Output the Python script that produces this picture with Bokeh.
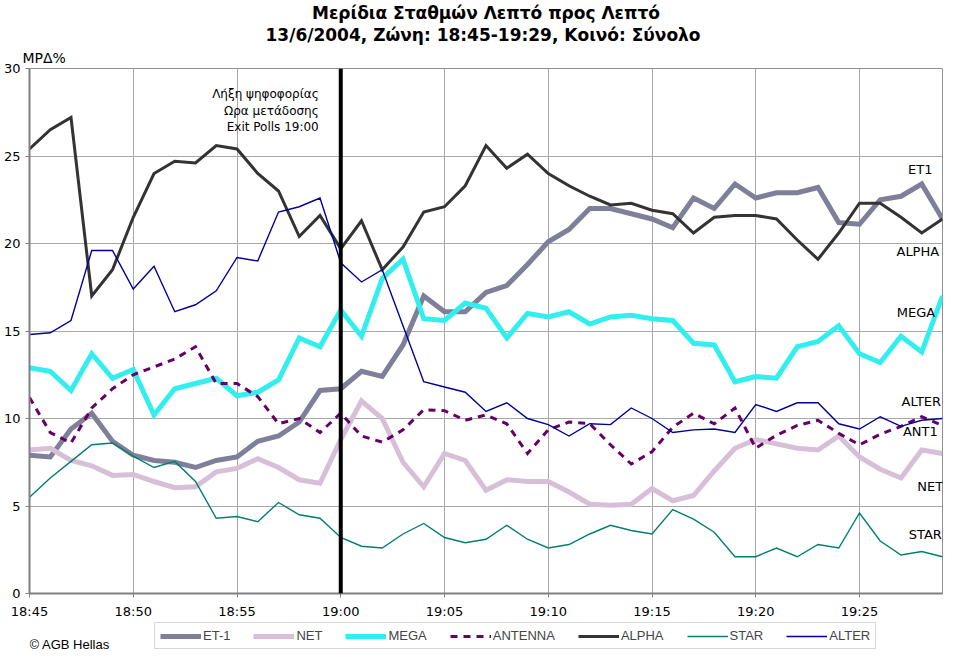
from bokeh.plotting import figure
from bokeh.models import Legend, LegendItem, Label, Span, FixedTicker, Title
from bokeh.layouts import column
from bokeh.embed import file_html
from bokeh.resources import INLINE

# ---------------- data ----------------
minutes = list(range(45))  # 18:45 .. 19:29
tick_minutes = [0, 5, 10, 15, 20, 25, 30, 35, 40]
tick_labels = ["18:45", "18:50", "18:55", "19:00", "19:05", "19:10", "19:15", "19:20", "19:25"]
y_ticks = [0, 5, 10, 15, 20, 25, 30]

et1 = [7.9, 7.8, 9.4, 10.3, 8.7, 7.9, 7.6, 7.5, 7.2, 7.6,
       7.8, 8.7, 9.0, 9.8, 11.6, 11.7, 12.7, 12.4, 14.2, 17.0,
       16.1, 16.1, 17.2, 17.6, 18.8, 20.1, 20.8, 22.0, 22.0, 21.7,
       21.4, 20.9, 22.6, 22.0, 23.4, 22.6, 22.9, 22.9, 23.2, 21.2,
       21.1, 22.5, 22.7, 23.4, 21.4]
net = [8.2, 8.3, 7.6, 7.3, 6.75, 6.8, 6.4, 6.05, 6.1, 6.95,
       7.15, 7.7, 7.2, 6.5, 6.3, 8.8, 11.0, 10.0, 7.5, 6.1,
       8.0, 7.6, 5.9, 6.5, 6.4, 6.4, 5.8, 5.1, 5.05, 5.1,
       6.0, 5.3, 5.6, 7.0, 8.3, 8.8, 8.55, 8.3, 8.2, 9.0,
       7.8, 7.1, 6.6, 8.2, 8.0]
mega = [12.9, 12.7, 11.6, 13.7, 12.3, 12.8, 10.2, 11.7, 12.0, 12.3,
        11.3, 11.5, 12.2, 14.6, 14.1, 16.2, 14.7, 18.0, 19.1, 15.7,
        15.6, 16.6, 16.3, 14.6, 16.0, 15.8, 16.1, 15.4, 15.8, 15.9,
        15.7, 15.6, 14.3, 14.2, 12.1, 12.4, 12.3, 14.1, 14.4, 15.3,
        13.7, 13.2, 14.7, 13.8, 17.0]
antenna = [11.2, 9.2, 8.6, 10.6, 11.7, 12.5, 12.95, 13.4, 14.1, 12.0,
           12.0, 11.25, 9.7, 10.0, 9.2, 10.3, 9.0, 8.65, 9.35, 10.5,
           10.45, 9.9, 10.2, 9.7, 8.0, 9.35, 9.8, 9.7, 8.5, 7.4,
           8.1, 9.5, 10.3, 9.7, 10.6, 8.3, 9.05, 9.6, 9.9, 9.15,
           8.5, 9.1, 9.55, 10.1, 9.6]
alpha = [25.4, 26.5, 27.2, 17.0, 18.5, 21.5, 24.0, 24.7, 24.6, 25.6,
         25.4, 24.0, 23.0, 20.4, 21.6, 19.7, 21.3, 18.5, 19.8, 21.8,
         22.1, 23.3, 25.6, 24.3, 25.1, 24.0, 23.3, 22.7, 22.2, 22.3,
         21.9, 21.7, 20.6, 21.5, 21.6, 21.6, 21.4, 20.2, 19.1, 20.6,
         22.3, 22.3, 21.5, 20.6, 21.4]
star = [5.5, 6.6, 7.55, 8.5, 8.6, 7.85, 7.2, 7.55, 6.4, 4.3,
        4.4, 4.1, 5.2, 4.5, 4.3, 3.2, 2.7, 2.6, 3.4, 4.0,
        3.2, 2.9, 3.1, 3.9, 3.1, 2.6, 2.8, 3.4, 3.9, 3.6,
        3.4, 4.8, 4.25, 3.5, 2.1, 2.1, 2.6, 2.1, 2.8, 2.6,
        4.6, 3.0, 2.2, 2.4, 2.1]
alter = [14.8, 14.9, 15.6, 19.6, 19.6, 17.4, 18.7, 16.1, 16.5, 17.3,
         19.2, 19.0, 21.8, 22.1, 22.6, 18.9, 17.8, 18.5, 15.3, 12.1,
         11.8, 11.5, 10.4, 10.9, 10.0, 9.65, 9.0, 9.7, 9.65, 10.6,
         10.0, 9.2, 9.35, 9.4, 9.2, 10.8, 10.4, 10.9, 10.9, 9.7,
         9.4, 10.1, 9.55, 9.9, 10.0]

series_names = ["ET-1", "NET", "MEGA", "ANTENNA", "ALPHA", "STAR", "ALTER"]
series_values = [et1, net, mega, antenna, alpha, star, alter]

end_labels = ["ET1", "ALPHA", "MEGA", "ALTER", "ANT1", "NET", "STAR"]
note_lines = ["Λήξη ψηφοφορίας", "Ωρα μετάδοσης", "Exit Polls 19:00"]
title_lines = ["Μερίδια Σταθμών Λεπτό προς Λεπτό",
               "13/6/2004, Ζώνη: 18:45-19:29,  Κοινό: Σύνολο"]
y_unit_text = "ΜΡΔ%"
credit_text = "© AGB Hellas"

# ---------------- styling ----------------
styles = {
    "ET-1": dict(line_color="#7f7f99", line_width=5),
    "NET": dict(line_color="#d8bfd8", line_width=5),
    "MEGA": dict(line_color="#33eeee", line_width=5),
    "ANTENNA": dict(line_color="#660066", line_width=3, line_dash="7 6"),
    "ALPHA": dict(line_color="#333333", line_width=3),
    "STAR": dict(line_color="#007f70", line_width=1.4),
    "ALTER": dict(line_color="#000099", line_width=1.4),
}
end_label_pos = {
    "ET1": (42.93, 24.23), "ALPHA": (42.81, 19.53), "MEGA": (42.72, 16.05),
    "ALTER": (42.98, 10.96), "ANT1": (42.93, 9.26), "NET": (43.41, 6.09),
    "STAR": (43.17, 3.37),
}
note_pos_x = 13.94
note_pos_y = [28.53, 27.57, 26.66]

W = 944
p = figure(width=W, height=621, x_range=(0, 44), y_range=(0, 30),
           output_backend="svg", toolbar_location=None,
           min_border_left=27, min_border_right=2, min_border_top=59, min_border_bottom=27)
p.outline_line_color = "#909090"
p.background_fill_color = "white"
p.border_fill_color = "white"

p.xaxis.ticker = FixedTicker(ticks=tick_minutes)
p.xaxis.major_label_overrides = {m: lab for m, lab in zip(tick_minutes, tick_labels)}
p.yaxis.ticker = FixedTicker(ticks=y_ticks)
p.xgrid.ticker = FixedTicker(ticks=tick_minutes)
p.ygrid.ticker = FixedTicker(ticks=y_ticks)
p.grid.grid_line_color = "#a8a8a8"
p.grid.grid_line_width = 1

for ax in (p.xaxis, p.yaxis):
    ax.axis_line_color = "#808080"
    ax.axis_line_width = 2
    ax.major_tick_line_color = "#808080"
    ax.major_tick_out = 4
    ax.major_tick_in = 0
    ax.minor_tick_line_color = None
    ax.major_label_text_font = "DejaVu Sans"
    ax.major_label_text_font_size = "13px"
    ax.major_label_text_color = "black"
p.xaxis.major_label_standoff = 6
p.yaxis.major_label_standoff = 5

for name, vals in zip(series_names, series_values):
    p.line(minutes, vals, line_join="miter", **styles[name])

# 19:00 marker line
p.add_layout(Span(location=15, dimension="height", line_color="black", line_width=4))

# titles (stacked above the frame; first added is nearest the frame)
p.add_layout(Title(text=y_unit_text, align="left", offset=-7, standoff=6,
                   text_font="DejaVu Sans", text_font_size="14px", text_font_style="normal",
                   text_color="black"), "above")
p.add_layout(Title(text=title_lines[1], align="center", standoff=0,
                   text_font="DejaVu Sans", text_font_size="17px", text_font_style="bold",
                   text_color="black"), "above")
p.add_layout(Title(text=title_lines[0], align="center", standoff=0,
                   text_font="DejaVu Sans", text_font_size="17px", text_font_style="bold",
                   text_color="black"), "above")

for txt in end_labels:
    x, y = end_label_pos[txt]
    p.add_layout(Label(x=x, y=y, text=txt, text_align="center", text_baseline="middle",
                       text_font="DejaVu Sans", text_font_size="13px", text_color="black"))

for txt, y in zip(note_lines, note_pos_y):
    p.add_layout(Label(x=note_pos_x, y=y, text=txt, text_align="right", text_baseline="alphabetic",
                       text_font="DejaVu Sans", text_font_size="12px", text_color="black"))

# ---------------- legend strip (separate small figure below the chart) ----------------
H2 = 30
p2 = figure(width=W, height=H2, x_range=(0, W), y_range=(0, H2),
            output_backend="svg", toolbar_location=None,
            x_axis_location=None, y_axis_location=None, min_border=0)
p2.grid.visible = False
p2.outline_line_color = None
p2.background_fill_color = "white"
p2.border_fill_color = "white"

# hidden copies of the series, used only as legend samples
legend_renderers = [p2.line(minutes, vals, visible=False, **styles[n])
                    for n, vals in zip(series_names, series_values)]
legend = Legend(items=[LegendItem(label=n, renderers=[r]) for n, r in zip(series_names, legend_renderers)],
                orientation="horizontal", location=(125, 2), margin=0,
                padding=5, spacing=23, glyph_width=41, glyph_height=14, label_standoff=2,
                label_text_font="Liberation Sans", label_text_font_size="13px",
                label_height=14, inactive_fill_alpha=0.0,
                border_line_color="#b0b0b0", border_line_width=1.5,
                background_fill_color="white")
p2.add_layout(legend)

p2.add_layout(Label(x=0, y=0, text=credit_text, text_align="left", text_baseline="bottom",
                    text_font="Liberation Sans", text_font_size="13px", text_color="black"))

layout = column(p, p2, spacing=0)
open("out.html", "w").write(file_html(layout, INLINE))
